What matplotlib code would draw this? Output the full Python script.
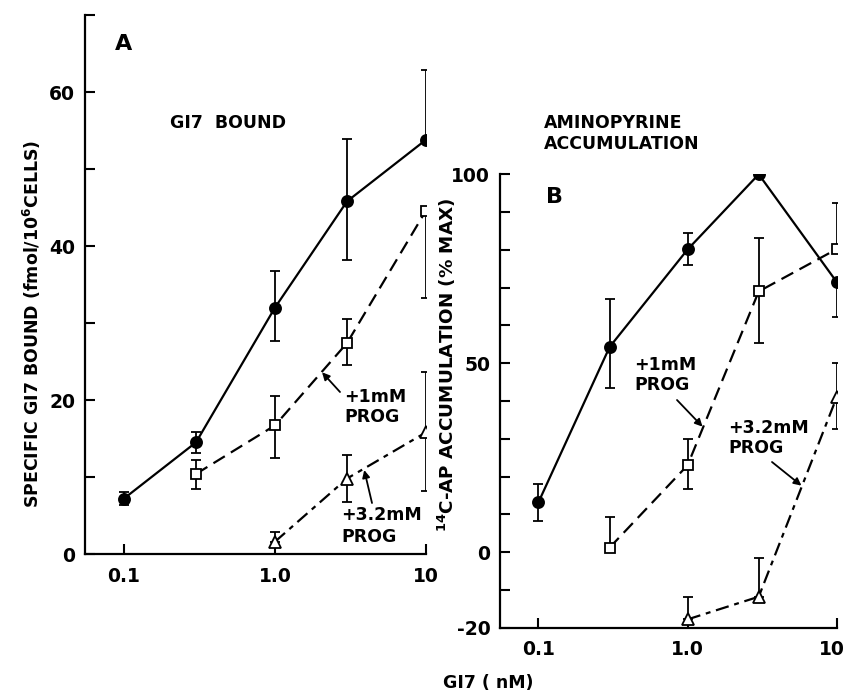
import numpy as np
import matplotlib
matplotlib.use("Agg")
import matplotlib.pyplot as plt
import matplotlib.transforms as mtransforms

plt.rcParams['font.family'] = ['DejaVu Sans']
plt.rcParams['font.weight'] = 'bold'
plt.rcParams['mathtext.fontset'] = 'custom'
plt.rcParams['mathtext.rm'] = 'DejaVu Sans:bold'
plt.rcParams['mathtext.default'] = 'rm'

# ---------------- data ----------------
conc = [0.1, 0.3, 1.0, 3.0, 10.0]

# Panel A : specific GI7 bound (fmol/10^6 cells)
a_ctrl_x = [0.1, 0.3, 1.0, 3.0, 10.0]
a_ctrl_y = [7.2, 14.5, 32.0, 45.8, 53.8]
a_ctrl_lo = [0.9, 1.4, 4.4, 7.6, 0.0]
a_ctrl_hi = [0.9, 1.3, 4.7, 8.1, 9.1]

a_p1_x = [0.3, 1.0, 3.0, 10.0]
a_p1_y = [10.4, 16.7, 27.4, 44.6]
a_p1_lo = [1.9, 4.2, 2.9, 11.4]
a_p1_hi = [1.8, 3.8, 3.1, 0.0]

a_p32_x = [1.0, 3.0, 10.0]
a_p32_y = [1.6, 9.8, 15.8]
a_p32_lo = [0.0, 3.1, 7.6]
a_p32_hi = [1.2, 3.1, 7.9]

# Panel B : 14C-AP accumulation (% max)
b_ctrl_x = [0.1, 0.3, 1.0, 3.0, 10.0]
b_ctrl_y = [13.2, 54.3, 80.1, 100.0, 71.5]
b_ctrl_lo = [5.0, 10.8, 4.1, 0.0, 9.3]
b_ctrl_hi = [4.9, 12.6, 4.3, 0.0, 0.0]

b_p1_x = [0.3, 1.0, 3.0, 10.0]
b_p1_y = [1.2, 23.0, 69.0, 80.2]
b_p1_lo = [0.0, 6.4, 13.6, 0.0]
b_p1_hi = [8.0, 6.9, 14.2, 12.2]

b_p32_x = [1.0, 3.0, 10.0]
b_p32_y = [-17.8, -11.8, 41.0]
b_p32_lo = [0.0, 0.0, 8.5]
b_p32_hi = [6.0, 10.2, 9.1]

xticks = [0.1, 1.0, 10.0]
xticklabels = ['0.1', '1.0', '10']
a_yticks = [0, 10, 20, 30, 40, 50, 60, 70]
a_yticklabels = ['0', '', '20', '', '40', '', '60', '']
b_yticks = [-20, -10, 0, 10, 20, 30, 40, 50, 60, 70, 80, 90, 100]
b_yticklabels = ['-20', '', '0', '', '', '', '', '50', '', '', '', '', '100']

# ---------------- figure ----------------
W, H = 847, 693
fig = plt.figure(figsize=(W / 100, H / 100), dpi=100)

def fx(px):
    return px / W

def fy(py):
    return 1 - py / H

axA = fig.add_axes([fx(85), fy(554), fx(426) - fx(85), fy(15) - fy(554)])
axB = fig.add_axes([fx(500), fy(627.7), fx(836.7) - fx(500), fy(174.3) - fy(627.7)])

LW = 1.6
FS = 12.5
TFS = 13.5

styles = {
    'ctrl': dict(marker='o', mfc='black', mec='black', ms=8, ls='-'),
    'p1': dict(marker='s', mfc='white', mec='black', ms=7.5, ls=(0, (6, 3.2))),
    'p32': dict(marker='^', mfc='white', mec='black', ms=8, ls=(0, (6, 2.6, 2.2, 2.6))),
}

def series(ax, x, y, lo, hi, key):
    ax.errorbar(x, y, yerr=[lo, hi], fmt='none', ecolor='black', elinewidth=1.3,
                capsize=3.5, capthick=1.3, zorder=2)
    ax.plot(x, y, color='black', lw=LW, mew=1.3, zorder=3, **styles[key])

series(axA, a_ctrl_x, a_ctrl_y, a_ctrl_lo, a_ctrl_hi, 'ctrl')
series(axA, a_p1_x, a_p1_y, a_p1_lo, a_p1_hi, 'p1')
series(axA, a_p32_x, a_p32_y, a_p32_lo, a_p32_hi, 'p32')

series(axB, b_ctrl_x, b_ctrl_y, b_ctrl_lo, b_ctrl_hi, 'ctrl')
series(axB, b_p1_x, b_p1_y, b_p1_lo, b_p1_hi, 'p1')
series(axB, b_p32_x, b_p32_y, b_p32_lo, b_p32_hi, 'p32')

left_lim = 10 ** (-1 - 0.258)
for ax, yt, ytl, ylim in [(axA, a_yticks, a_yticklabels, (0, 70)),
                          (axB, b_yticks, b_yticklabels, (-20, 100))]:
    ax.set_xscale('log')
    ax.set_xlim(left_lim, 10)
    ax.set_ylim(*ylim)
    ax.set_xticks(xticks)
    ax.set_xticklabels(xticklabels)
    ax.minorticks_off()
    ax.set_yticks(yt)
    ax.set_yticklabels(ytl)
    ax.spines['top'].set_visible(False)
    ax.spines['right'].set_visible(False)
    for s in ('left', 'bottom'):
        ax.spines[s].set_linewidth(1.6)
    ax.tick_params(axis='both', direction='in', length=7, width=1.5,
                   labelsize=TFS)
    ax.tick_params(axis='y', pad=7)
    ax.tick_params(axis='x', pad=9)
    for lab in ax.get_xticklabels() + ax.get_yticklabels():
        lab.set_fontweight('bold')
    ax.patch.set_visible(False)

# keep the last tick label of panel B inside the canvas
last = axB.get_xticklabels()[-1]
last.set_transform(last.get_transform() +
                   mtransforms.ScaledTranslation(-5 / 100, 0, fig.dpi_scale_trans))

# y labels
axA.set_ylabel('SPECIFIC GI7 BOUND (fmol/10$^{6}$CELLS)', fontsize=12.5, fontweight='bold')
axA.yaxis.set_label_coords((43 - 85) / 341, (554 - 324) / 539)
axB.set_ylabel('$^{14}$C-AP ACCUMULATION (% MAX)', fontsize=13.2, fontweight='bold')
axB.yaxis.set_label_coords((458 - 500) / 336.7, (627.7 - 365) / 453.4)

# panel texts
fig.text(fx(115), fy(44), 'A', fontsize=16, fontweight='bold', va='center', ha='left')
fig.text(fx(170), fy(123), 'GI7  BOUND', fontsize=FS, fontweight='bold', va='center', ha='left')
fig.text(fx(544), fy(133.5), 'AMINOPYRINE\nACCUMULATION', fontsize=FS, fontweight='bold',
         va='center', ha='left', linespacing=1.15)
fig.text(fx(546), fy(197), 'B', fontsize=16, fontweight='bold', va='center', ha='left')
fig.text(fx(488), fy(683), 'GI7 ( nM)', fontsize=12.5, fontweight='bold', va='center', ha='center')

arrow = dict(arrowstyle='-|>', lw=1.3, color='black', mutation_scale=11, shrinkA=0, shrinkB=0)

def label(ax, text, tip, tpos, start, ls=1.2):
    fig.text(fx(tpos[0]), fy(tpos[1]), text, fontsize=FS, fontweight='bold',
             va='center', ha='left', linespacing=ls)
    ax.annotate('', xy=tip, xycoords='data', xytext=(fx(start[0]), fy(start[1])),
                textcoords='figure fraction', arrowprops=arrow)

label(axA, '+1mM\nPROG', (2.05, 23.6), (344, 407), (340, 392))
label(axA, '+3.2mM\nPROG', (3.9, 10.9), (341, 526), (372, 503), ls=1.35)
label(axB, '+1mM\nPROG', (1.26, 33.2), (634, 375), (677, 400))
label(axB, '+3.2mM\nPROG', (5.8, 17.6), (728, 438), (772, 462))

fig.savefig('out.png', dpi=100)
